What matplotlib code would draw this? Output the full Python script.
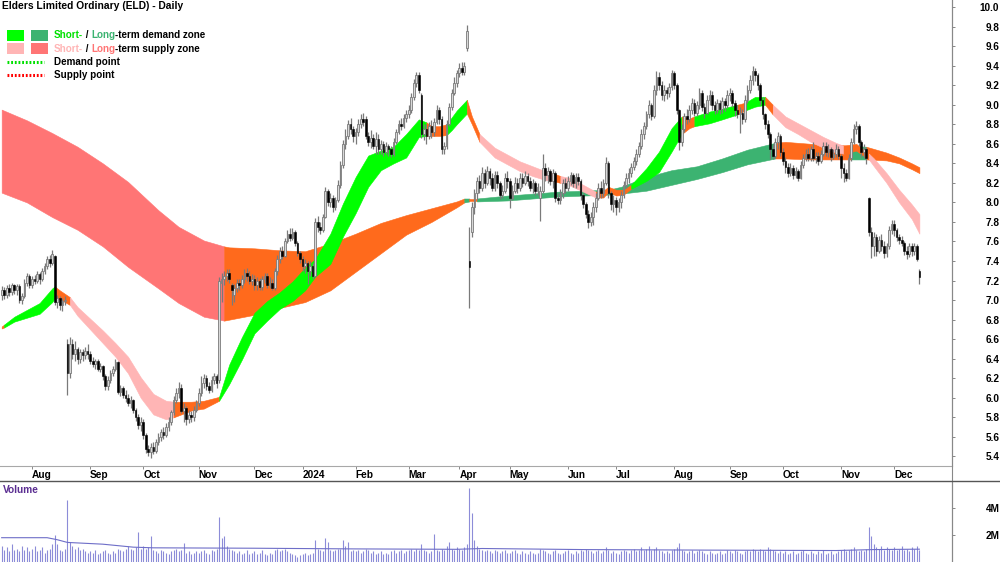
import numpy as np
import pandas as pd
import matplotlib
matplotlib.use("Agg")
import matplotlib.pyplot as plt
from matplotlib.patches import Rectangle
from matplotlib.lines import Line2D

plt.rcParams['font.family'] = ['Liberation Sans', 'DejaVu Sans']
plt.rcParams['font.weight'] = 'bold'

TITLE = "Elders Limited Ordinary (ELD) - Daily"

# ---------------- daily OHLC, 14 Jul 2023 .. 16 Dec 2024 ----------------
opens = [
    # Jul 23
    7.05,7.10,7.05,7.12,7.08,7.15,7.10,7.14,7.00,7.04,7.18,7.25,
    # Aug
    7.15,7.22,7.20,7.27,7.22,7.30,7.35,7.42,7.38,7.45,6.98,7.02,6.95,6.99,6.55,6.25,6.55,6.45,6.50,6.40,6.47,6.44,6.48,
    # Sep
    6.45,6.38,6.35,6.38,6.30,6.33,6.22,6.12,6.18,6.25,6.30,6.37,6.06,6.10,6.03,6.00,5.95,5.98,5.88,5.80,5.72,
    # Oct
    5.75,5.62,5.48,5.45,5.50,5.46,5.55,5.60,5.65,5.62,5.70,5.75,5.85,5.98,6.05,6.10,5.86,5.90,5.78,5.82,5.80,5.88,
    # Nov
    5.95,6.05,6.15,6.20,6.12,6.08,6.18,6.22,6.18,7.18,7.22,7.25,7.28,7.15,7.05,7.12,7.18,7.15,7.22,7.28,7.25,7.20,
    # Dec
    7.22,7.15,7.20,7.13,7.22,7.25,7.15,7.18,7.12,7.30,7.42,7.50,7.45,7.60,7.68,7.64,7.70,7.58,7.48,
    # Jan 24
    7.42,7.35,7.38,7.30,7.35,7.25,7.80,7.75,7.72,7.85,8.12,8.00,8.05,7.95,8.02,8.18,8.38,8.60,8.68,8.80,8.75,
    # Feb
    8.68,8.72,8.80,8.85,8.85,8.68,8.62,8.66,8.58,8.65,8.55,8.60,8.52,8.58,8.55,8.50,8.62,8.72,8.80,8.78,8.86,
    # Mar
    8.90,8.95,9.08,9.22,9.30,9.10,8.70,8.75,8.68,8.78,8.72,8.82,8.95,8.85,8.55,8.58,8.80,8.98,9.12,9.22,
    # Apr
    9.32,9.38,9.33,9.58,7.40,7.70,7.95,8.10,8.22,8.15,8.30,8.20,8.32,8.25,8.15,8.28,8.20,8.08,8.12,8.25,
    # May
    8.22,8.05,8.12,8.20,8.15,8.25,8.20,8.27,8.22,8.15,8.20,8.12,8.05,8.12,8.35,8.28,8.32,8.22,8.30,8.05,8.02,8.10,8.20,
    # Jun
    8.15,8.22,8.28,8.20,8.26,8.22,8.08,7.98,7.88,7.80,7.85,7.95,8.05,8.15,8.10,8.20,8.40,8.10,7.98,
    # Jul
    8.02,7.95,8.00,8.08,8.18,8.25,8.30,8.36,8.42,8.50,8.58,8.70,8.78,8.90,9.00,8.88,9.15,9.28,9.20,9.10,9.15,9.12,9.18,
    # Aug
    9.32,9.20,8.95,8.62,8.75,8.88,8.85,8.95,9.02,8.92,9.00,9.12,8.98,8.92,9.05,9.10,9.00,8.95,9.02,8.96,9.04,9.00,
    # Sep
    9.10,9.12,9.02,8.95,8.90,8.92,8.85,9.05,9.15,9.25,9.35,9.30,9.20,9.05,8.90,8.80,8.70,8.55,8.48,8.62,8.68,
    # Oct
    8.52,8.42,8.36,8.30,8.35,8.28,8.32,8.25,8.38,8.45,8.50,8.45,8.55,8.45,8.48,8.42,8.50,8.58,8.52,8.55,8.47,8.50,8.55,
    # Nov
    8.48,8.35,8.30,8.25,8.45,8.62,8.75,8.78,8.62,8.52,8.55,8.05,7.70,7.55,7.65,7.50,7.62,7.55,7.48,7.55,7.72,
    # Dec
    7.78,7.72,7.65,7.62,7.58,7.50,7.47,7.55,7.50,7.55,7.30,
]
highs = [
    7.14,7.13,7.15,7.16,7.18,7.17,7.16,7.16,7.07,7.22,7.28,7.27,
    7.25,7.26,7.30,7.29,7.33,7.38,7.45,7.46,7.51,7.46,7.05,7.04,7.02,7.04,6.60,6.62,6.60,6.58,6.52,6.50,6.50,6.52,6.55,
    6.48,6.42,6.40,6.40,6.36,6.34,6.24,6.22,6.28,6.33,6.40,6.38,6.13,6.12,6.08,6.04,6.02,5.99,5.90,5.83,5.80,
    5.78,5.64,5.52,5.54,5.55,5.58,5.64,5.68,5.70,5.74,5.80,5.88,6.02,6.10,6.16,6.14,5.95,5.92,5.88,5.86,5.92,5.98,
    6.10,6.22,6.24,6.23,6.16,6.22,6.25,6.24,7.24,7.28,7.30,7.32,7.32,7.18,7.16,7.22,7.22,7.26,7.32,7.33,7.30,7.27,
    7.26,7.24,7.23,7.25,7.28,7.28,7.24,7.22,7.33,7.46,7.54,7.55,7.64,7.72,7.74,7.74,7.72,7.60,7.50,
    7.45,7.42,7.40,7.40,7.38,7.84,7.86,7.80,7.88,8.16,8.14,8.10,8.08,8.06,8.23,8.42,8.64,8.75,8.84,8.86,8.78,
    8.76,8.85,8.90,8.92,8.88,8.72,8.74,8.70,8.72,8.70,8.64,8.63,8.62,8.60,8.58,8.66,8.75,8.84,8.86,8.90,8.95,
    9.00,9.12,9.26,9.34,9.33,9.12,8.80,8.80,8.82,8.84,8.86,9.00,8.98,8.88,8.62,8.84,9.02,9.16,9.28,9.36,
    9.43,9.44,9.44,9.82,7.75,8.00,8.14,8.26,8.28,8.36,8.34,8.37,8.35,8.30,8.32,8.32,8.22,8.18,8.30,8.32,
    8.25,8.18,8.26,8.25,8.30,8.30,8.32,8.30,8.26,8.24,8.22,8.20,8.17,8.50,8.40,8.36,8.34,8.34,8.32,8.10,8.14,8.24,8.25,
    8.27,8.31,8.30,8.30,8.30,8.24,8.10,8.00,7.92,7.90,8.00,8.10,8.20,8.22,8.24,8.47,8.42,8.12,8.08,
    8.06,8.05,8.12,8.22,8.30,8.35,8.40,8.47,8.55,8.62,8.75,8.82,8.94,9.05,9.02,9.20,9.35,9.34,9.24,9.20,9.18,9.22,9.36,
    9.35,9.22,8.96,8.80,8.92,8.96,9.00,9.07,9.06,9.04,9.17,9.15,9.02,9.10,9.15,9.14,9.04,9.06,9.05,9.08,9.07,9.15,
    9.17,9.15,9.05,9.00,8.98,8.96,9.10,9.20,9.30,9.40,9.38,9.32,9.22,9.08,8.92,8.84,8.72,8.60,8.66,8.72,8.70,
    8.56,8.46,8.40,8.40,8.38,8.36,8.34,8.42,8.50,8.55,8.56,8.58,8.62,8.52,8.52,8.54,8.62,8.62,8.60,8.57,8.55,8.60,8.58,
    8.50,8.40,8.34,8.50,8.66,8.80,8.83,8.80,8.64,8.60,8.57,8.06,7.75,7.70,7.68,7.66,7.68,7.60,7.58,7.76,7.82,
    7.82,7.74,7.68,7.66,7.60,7.55,7.58,7.58,7.58,7.57,7.32,
]
lows = [
    7.00,7.01,7.02,7.04,7.05,7.06,7.05,6.97,6.96,7.02,7.14,7.12,
    7.12,7.16,7.18,7.17,7.20,7.27,7.32,7.34,7.36,6.95,6.92,6.90,6.89,6.95,6.03,6.20,6.40,6.38,6.35,6.36,6.38,6.40,6.40,
    6.35,6.32,6.30,6.27,6.26,6.18,6.08,6.08,6.15,6.22,6.27,6.04,6.02,6.00,5.96,5.92,5.90,5.84,5.76,5.68,5.66,
    5.58,5.44,5.40,5.38,5.42,5.44,5.52,5.56,5.58,5.60,5.66,5.72,5.82,5.95,6.00,5.84,5.75,5.72,5.74,5.75,5.76,5.85,
    5.92,6.02,6.10,6.08,6.05,6.06,6.14,6.10,6.15,6.98,7.15,7.20,7.18,6.95,6.98,7.08,7.10,7.12,7.18,7.20,7.16,7.15,
    7.10,7.10,7.10,7.10,7.18,7.12,7.12,7.10,7.10,7.26,7.38,7.42,7.44,7.58,7.60,7.62,7.55,7.45,7.38,
    7.30,7.28,7.17,7.25,7.22,7.24,7.70,7.68,7.70,7.84,7.96,7.95,7.90,7.92,8.00,8.15,8.35,8.55,8.65,8.70,8.62,
    8.60,8.68,8.76,8.78,8.65,8.58,8.56,8.55,8.50,8.50,8.50,8.48,8.50,8.48,8.47,8.48,8.60,8.70,8.74,8.76,8.82,
    8.86,8.92,9.05,9.18,9.12,8.66,8.64,8.60,8.65,8.66,8.68,8.80,8.80,8.50,8.50,8.55,8.78,8.95,9.10,9.18,
    9.28,9.30,9.30,9.55,6.92,7.65,7.88,8.02,8.10,8.12,8.15,8.18,8.18,8.12,8.12,8.15,8.04,8.05,8.10,8.15,
    7.94,8.02,8.10,8.10,8.12,8.16,8.18,8.17,8.12,8.10,8.08,8.08,7.81,8.10,8.22,8.20,8.18,8.15,8.00,7.98,7.98,8.05,8.10,
    8.12,8.18,8.16,8.15,8.18,8.02,7.94,7.84,7.74,7.76,7.77,7.90,8.02,8.05,8.06,8.18,8.05,7.92,7.90,
    7.87,7.90,7.94,8.05,8.15,8.20,8.26,8.33,8.38,8.46,8.55,8.65,8.75,8.86,8.84,8.86,9.10,9.15,9.05,9.04,9.06,9.08,9.15,
    9.16,8.90,8.54,8.58,8.72,8.80,8.82,8.90,8.88,8.88,8.96,8.94,8.86,8.90,9.00,8.95,8.90,8.92,8.90,8.92,8.94,8.97,
    9.04,8.98,8.88,8.86,8.71,8.80,8.82,9.02,9.12,9.20,9.24,9.15,9.00,8.85,8.75,8.66,8.44,8.44,8.45,8.55,8.48,
    8.38,8.30,8.26,8.27,8.24,8.25,8.22,8.24,8.35,8.42,8.42,8.42,8.42,8.40,8.38,8.40,8.48,8.48,8.47,8.42,8.44,8.46,8.44,
    8.25,8.21,8.22,8.24,8.42,8.60,8.70,8.58,8.46,8.45,8.39,7.66,7.43,7.45,7.45,7.48,7.50,7.43,7.44,7.52,7.68,
    7.66,7.60,7.57,7.55,7.46,7.42,7.44,7.45,7.46,7.40,7.17,
]
closes = [
    7.10,7.05,7.12,7.08,7.15,7.10,7.14,7.00,7.04,7.18,7.25,7.15,
    7.22,7.20,7.27,7.22,7.30,7.35,7.42,7.38,7.47,6.98,7.02,6.95,6.99,7.00,6.25,6.55,6.45,6.50,6.40,6.47,6.44,6.48,6.45,
    6.38,6.35,6.38,6.30,6.33,6.22,6.12,6.18,6.25,6.30,6.37,6.06,6.10,6.03,6.00,5.95,5.98,5.88,5.80,5.72,5.75,
    5.62,5.48,5.45,5.50,5.46,5.55,5.60,5.65,5.62,5.70,5.75,5.85,5.98,6.05,6.10,5.86,5.90,5.78,5.82,5.80,5.88,5.95,
    6.05,6.15,6.20,6.12,6.08,6.18,6.22,6.15,7.20,7.22,7.25,7.28,7.22,7.10,7.12,7.18,7.15,7.22,7.28,7.25,7.20,7.22,
    7.15,7.20,7.13,7.22,7.25,7.15,7.18,7.12,7.30,7.42,7.50,7.45,7.60,7.68,7.64,7.70,7.58,7.48,7.42,
    7.35,7.38,7.30,7.35,7.25,7.80,7.75,7.72,7.85,8.12,8.00,8.05,7.95,8.02,8.18,8.38,8.60,8.68,8.80,8.75,8.68,
    8.72,8.80,8.85,8.82,8.68,8.62,8.66,8.58,8.65,8.55,8.60,8.52,8.58,8.55,8.50,8.62,8.72,8.80,8.78,8.86,8.90,
    8.95,9.08,9.22,9.30,9.15,8.70,8.75,8.68,8.78,8.72,8.82,8.95,8.85,8.55,8.58,8.80,8.98,9.12,9.22,9.32,
    9.38,9.33,9.40,9.75,7.34,7.95,8.10,8.22,8.15,8.30,8.20,8.32,8.25,8.15,8.28,8.20,8.08,8.12,8.25,8.22,
    8.05,8.12,8.20,8.15,8.25,8.20,8.27,8.22,8.15,8.20,8.12,8.16,8.12,8.35,8.28,8.32,8.22,8.30,8.05,8.02,8.10,8.20,8.15,
    8.22,8.28,8.20,8.26,8.22,8.08,7.98,7.88,7.80,7.85,7.95,8.05,8.15,8.10,8.20,8.40,8.10,7.98,8.02,
    7.95,8.00,8.08,8.18,8.25,8.30,8.36,8.42,8.50,8.58,8.70,8.78,8.90,9.00,8.88,9.15,9.28,9.20,9.10,9.15,9.12,9.18,9.32,
    9.20,8.95,8.62,8.75,8.88,8.85,8.95,9.02,8.92,9.00,9.12,8.98,8.92,9.05,9.10,9.00,8.95,9.02,8.96,9.04,9.00,9.10,
    9.12,9.02,8.95,8.90,8.92,8.85,9.05,9.15,9.25,9.35,9.30,9.20,9.05,8.90,8.80,8.70,8.55,8.48,8.62,8.68,8.52,
    8.42,8.36,8.30,8.35,8.28,8.32,8.25,8.38,8.45,8.50,8.45,8.55,8.45,8.48,8.42,8.50,8.58,8.52,8.55,8.47,8.50,8.55,8.48,
    8.35,8.30,8.25,8.45,8.62,8.75,8.78,8.62,8.52,8.55,8.45,7.70,7.55,7.65,7.50,7.62,7.55,7.48,7.55,7.72,7.78,
    7.72,7.65,7.62,7.58,7.50,7.47,7.55,7.50,7.55,7.42,7.24,
]
# volume, millions of shares
volume = [
    1.2,0.9,1.1,0.8,1.3,0.9,1.0,0.8,1.2,0.9,1.1,0.8,
    1.0,1.2,0.8,0.9,1.1,0.7,0.9,1.0,1.3,2.0,1.3,0.9,0.8,1.0,4.6,1.5,1.2,1.0,1.1,0.9,1.0,0.8,0.7,
    0.8,0.7,0.9,0.6,0.7,0.8,0.9,0.7,0.6,0.8,0.7,1.0,0.9,0.8,1.0,1.2,1.0,0.9,1.1,2.2,1.0,
    1.2,1.0,1.1,1.9,0.9,0.8,0.7,0.9,0.8,0.7,0.6,0.8,0.9,1.0,0.8,0.9,1.4,0.7,0.8,0.6,0.7,0.8,
    0.7,0.8,0.9,0.7,0.6,0.9,0.8,1.0,3.3,1.8,1.9,1.2,1.0,0.9,0.8,0.7,0.8,0.6,0.7,0.9,0.6,0.7,
    0.8,0.6,0.7,0.9,0.6,0.5,0.7,0.6,0.9,1.0,0.8,0.9,1.0,0.8,0.7,0.6,0.5,0.4,0.5,
    0.6,0.7,0.5,0.6,0.7,1.6,1.0,0.9,0.8,1.8,1.5,0.9,0.8,0.9,1.0,1.0,1.6,1.2,1.5,0.8,0.9,
    0.8,0.9,0.7,0.8,1.0,0.9,0.7,0.8,0.6,0.7,0.8,0.6,0.7,0.6,0.8,0.9,0.7,0.8,0.9,0.7,0.8,
    0.9,1.0,0.8,1.0,0.9,1.3,0.9,0.8,0.7,0.8,2.1,0.9,0.8,1.0,0.9,1.2,1.5,1.0,0.9,1.1,
    1.0,0.9,1.1,1.3,5.5,3.6,1.6,1.2,1.0,0.9,0.8,0.9,0.8,0.7,0.9,0.8,0.7,0.8,0.9,0.7,
    0.7,0.8,0.9,0.7,0.6,0.8,0.7,0.6,0.8,0.7,0.6,0.7,1.0,0.9,0.8,0.7,0.6,0.8,0.9,0.7,0.6,0.7,0.8,
    0.9,0.7,0.6,0.8,0.7,0.9,0.8,1.0,0.9,0.8,0.7,0.8,0.9,0.7,0.8,1.1,0.9,0.7,0.8,
    0.7,0.6,0.8,0.9,0.8,0.7,0.9,1.0,0.8,0.9,1.1,0.9,1.0,1.2,0.9,1.0,1.1,0.9,0.8,0.7,0.8,0.7,0.9,
    1.0,1.1,1.4,0.9,0.8,0.7,0.8,0.9,0.7,0.8,0.9,0.8,0.7,0.6,0.8,0.7,0.6,0.7,0.8,0.6,0.7,0.9,
    0.8,0.7,0.9,0.8,0.7,0.6,0.8,0.9,0.8,1.0,0.9,0.8,1.0,0.9,0.8,1.1,1.0,0.9,0.8,0.7,0.8,
    0.7,0.8,0.6,0.7,0.8,0.6,0.7,0.8,0.9,0.7,0.6,0.8,0.7,0.6,0.8,0.7,0.9,0.6,0.7,0.8,0.6,0.7,0.8,
    0.9,1.0,0.8,0.9,1.0,1.1,0.9,0.8,0.9,0.8,1.0,2.6,1.9,1.3,1.1,1.0,1.2,0.9,1.1,1.0,0.9,
    1.1,0.9,1.0,1.2,0.9,1.0,0.8,1.1,1.0,1.2,0.9,
]
# volume average line (bar index, millions)
vol_ma_day = [0, 18, 22, 26, 40, 52, 60, 100, 140, 180, 190, 230, 280, 330, 345, 363]
vol_ma_val = [1.8, 1.8, 1.65, 1.45, 1.32, 1.1, 1.05, 1.02, 0.97, 0.94, 1.0, 0.92, 0.88, 0.85, 0.92, 0.95]

# ---------------- demand / supply zones (bar index, upper, lower, state) ----------------
# state: d/D demand, s/S supply, m/M mixed ; lower case short-term, upper case long-term
short_day = [0, 1, 5, 10, 15, 20, 21, 23, 27, 30, 35, 40, 45, 50, 55, 60, 65, 68, 70, 75, 80,
             86, 90, 95, 100, 105, 110, 115, 120, 124, 130, 135, 140, 145, 150, 155, 160, 165,
             168, 170, 173, 176, 178, 180, 184, 186, 189, 195, 200, 205, 210, 215, 218, 221, 225,
             230, 235, 238, 240, 243, 246, 249, 255, 260, 265, 269, 272, 274, 280, 285, 291, 294,
             298, 302, 305, 310, 315, 320, 325, 330, 333, 338, 343, 345, 350, 355, 360, 363]
short_top = [6.73, 6.75, 6.83, 6.90, 6.97, 7.12, 7.14, 7.10, 7.03, 6.93, 6.81, 6.69, 6.56, 6.42, 6.21,
             6.04, 5.97, 5.96, 5.96, 5.96, 5.97, 6.01, 6.34, 6.62, 6.87, 6.99, 7.08, 7.19, 7.33, 7.42,
             7.68, 7.99, 8.26, 8.48, 8.53, 8.57, 8.70, 8.85, 8.82, 8.78, 8.78, 8.80, 8.87, 8.94, 9.05,
             8.88, 8.70, 8.56, 8.49, 8.42, 8.37, 8.32, 8.30, 8.27, 8.25, 8.18, 8.11, 8.12, 8.16, 8.13,
             8.13, 8.18, 8.35, 8.52, 8.76, 8.88, 8.86, 8.88, 8.93, 8.96, 9.00, 9.02, 9.08, 9.08, 9.00,
             8.88, 8.81, 8.74, 8.67, 8.61, 8.58, 8.60, 8.50, 8.45, 8.30, 8.13, 7.98, 7.88]
short_bot = [6.71, 6.72, 6.78, 6.82, 6.86, 6.98, 7.02, 7.01, 6.95, 6.84, 6.70, 6.56, 6.42, 6.25, 6.00,
             5.83, 5.78, 5.80, 5.82, 5.87, 5.89, 5.97, 6.14, 6.39, 6.66, 6.79, 6.91, 6.99, 7.10, 7.24,
             7.37, 7.65, 7.89, 8.16, 8.33, 8.40, 8.46, 8.67, 8.68, 8.68, 8.68, 8.69, 8.74, 8.80, 8.91,
             8.80, 8.62, 8.46, 8.39, 8.32, 8.27, 8.23, 8.22, 8.20, 8.17, 8.11, 8.05, 8.05, 8.11, 8.07,
             8.08, 8.14, 8.22, 8.31, 8.52, 8.70, 8.76, 8.78, 8.81, 8.85, 8.90, 8.94, 8.98, 9.00, 8.90,
             8.77, 8.70, 8.62, 8.56, 8.51, 8.50, 8.53, 8.44, 8.37, 8.20, 8.00, 7.83, 7.68]
short_state = "mdddddmmsssssssssmmmmdddddddddddddddddmmmdddmmssssssmsssmmmmmddddmmdddmddmssssssmmssssss"

long_day = [0, 10, 20, 30, 40, 50, 62, 70, 80, 88, 90, 100, 110, 120, 130, 140, 150, 160, 170, 180,
            183, 185, 188, 200, 210, 220, 230, 240, 245, 255, 265, 275, 285, 295, 306, 310, 320, 330,
            336, 342, 350, 355, 360, 363]
long_top = [8.95, 8.84, 8.71, 8.57, 8.40, 8.21, 7.92, 7.75, 7.61, 7.55, 7.54, 7.53, 7.51, 7.50, 7.58,
            7.68, 7.79, 7.87, 7.94, 8.01, 8.04, 8.04, 8.04, 8.07, 8.09, 8.11, 8.12, 8.13, 8.16, 8.26,
            8.33, 8.37, 8.45, 8.54, 8.61, 8.62, 8.60, 8.59, 8.58, 8.57, 8.51, 8.46, 8.40, 8.36]
long_bot = [8.10, 8.00, 7.85, 7.72, 7.55, 7.34, 7.12, 6.97, 6.83, 6.79, 6.80, 6.85, 6.92, 6.98, 7.10,
            7.29, 7.48, 7.67, 7.80, 7.95, 8.00, 8.01, 8.01, 8.02, 8.04, 8.06, 8.07, 8.08, 8.09, 8.12,
            8.18, 8.24, 8.31, 8.39, 8.45, 8.45, 8.44, 8.44, 8.44, 8.44, 8.43, 8.40, 8.34, 8.30]
long_state = "SSSSSSSSSMMMMMMMMMMMDMDDDDDDDDDDDDMMMMDMMMMM"

month_labels = ["Aug", "Sep", "Oct", "Nov", "Dec", "2024", "Feb", "Mar", "Apr", "May", "Jun",
                "Jul", "Aug", "Sep", "Oct", "Nov", "Dec"]
price_ticks = np.round(np.arange(5.4, 10.01, 0.2), 1)

ZONE_COLORS = {'d': '#00FF00', 's': '#FFB5B5', 'm': '#FF6A1C',
               'D': '#3CB371', 'S': '#FF7575', 'M': '#FF6A1C'}

N = len(closes)
for arr in (opens, highs, lows, volume):
    assert len(arr) == N, len(arr)
assert len(short_state) == len(short_day) == len(short_top) == len(short_bot)
assert len(long_state) == len(long_day) == len(long_top) == len(long_bot)

# ASX trading calendar
holidays = pd.to_datetime(["2023-12-25", "2023-12-26", "2024-01-01", "2024-01-26", "2024-03-29",
                           "2024-04-01", "2024-04-25", "2024-06-10"])
days = pd.bdate_range("2023-07-14", "2024-12-31")
days = days[~days.isin(holidays)][:N]
dates = pd.Series(days)
month_first = dates.groupby([dates.dt.year, dates.dt.month]).head(1).index[1:]

W, H = 1000, 562
fig = plt.figure(figsize=(W / 100, H / 100), dpi=100)
ax = fig.add_axes([0, (H - 466) / H, 952 / W, 466 / H])
axv = fig.add_axes([0, 0, 952 / W, 81 / H])

x = np.arange(N)


def draw_zone(a, day, top, bot, state, z):
    day = np.asarray(day, float)
    top = np.asarray(top)
    bot = np.asarray(bot)
    start = 0
    n = len(day) - 1
    for k in range(1, n + 1):
        if k == n or state[k] != state[start]:
            sl = slice(start, k + 1)
            c = ZONE_COLORS[state[start]]
            a.fill_between(day[sl], bot[sl], top[sl], color=c, lw=0.4, ec=c, zorder=z)
            start = k


draw_zone(ax, long_day, long_top, long_bot, long_state, 1)
draw_zone(ax, short_day, short_top, short_bot, short_state, 2)

o = np.array(opens)
c = np.array(closes)
hi = np.array(highs)
lo = np.array(lows)
up = c >= o
ax.vlines(x, lo, hi, color='#7a7a7a', lw=0.9, zorder=3)
body_lo = np.minimum(o, c)
body_h = np.maximum(np.abs(c - o), 0.012)
ax.bar(x[up], body_h[up], bottom=body_lo[up], width=0.66, color='#d8d8d8', edgecolor='#7a7a7a',
       lw=0.6, zorder=4)
ax.bar(x[~up], body_h[~up], bottom=body_lo[~up], width=0.66, color='black', edgecolor='black',
       lw=0.4, zorder=4)

xmin, xmax = -0.66, 375.9
ax.set_xlim(xmin, xmax)
ax.set_ylim(5.302, 10.072)
for s in ('left', 'top'):
    ax.spines[s].set_visible(False)
ax.spines['bottom'].set_color('#a8a8a8')
ax.spines['right'].set_color('#888888')
ax.yaxis.tick_right()
ax.set_yticks(price_ticks, [f"{v:.1f}" for v in price_ticks])
ax.tick_params(axis='y', direction='out', length=2.2, width=0.7, color='#888888',
               labelsize=7.2, pad=31.9)
plt.setp(ax.get_yticklabels(), ha='right')
ax.set_xticks(month_first, month_labels)
ax.tick_params(axis='x', direction='out', length=2.2, width=0.7, color='#888888',
               labelsize=7.3, pad=0.5)
plt.setp(ax.get_xticklabels(), ha='left')

# volume panel
axv.vlines(x, 0, volume, color='#8c8cd8', lw=0.8)
axv.plot(vol_ma_day, vol_ma_val, color='#6e6ec8', lw=0.8)
axv.set_xlim(xmin, xmax)
axv.set_ylim(0, 6.0)
for s in ('left', 'top', 'bottom'):
    axv.spines[s].set_visible(False)
axv.spines['right'].set_color('#888888')
axv.set_xticks([])
axv.yaxis.tick_right()
axv.set_yticks([2, 4], ["2M", "4M"])
axv.tick_params(axis='y', direction='out', length=2.2, width=0.7, color='#888888',
                labelsize=7.2, pad=31.9)
plt.setp(axv.get_yticklabels(), ha='right')
axv.text(3, 80 - 8, "Volume", transform=None, fontsize=7.3, color='#5a2d91', va='center')

# frame lines
fig.add_artist(Line2D([952 / W, 952 / W], [0, 1], color='#888888', lw=0.8))
fig.add_artist(Line2D([0, 1], [(H - 481) / H] * 2, color='#555555', lw=1.0))

# title and legend
fig.text(2 / W, 1 - 6 / H, TITLE, fontsize=7.4, va='center', ha='left')


def px(xp, yp):
    return xp / W, 1 - yp / H


def swatch(xp, yp, color):
    fig.add_artist(Rectangle(px(xp, yp + 10), 17 / W, 10 / H, transform=fig.transFigure,
                             color=color, lw=0))


def rich_line(xp, yp, pieces):
    prev = fig.text(*px(xp, yp), pieces[0][0], color=pieces[0][1], fontsize=7.1, va='center')
    for txt, col in pieces[1:]:
        prev = ax.annotate(txt, xy=(1, 0), xycoords=prev, va='bottom', ha='left',
                           color=col, fontsize=7.1, annotation_clip=False)


swatch(7, 30.5, ZONE_COLORS['d'])
swatch(31, 30.5, ZONE_COLORS['D'])
rich_line(54, 35.5, [("Short-", '#00E000'), (" / ", 'black'), ("Long", '#3CB371'),
                     ("-term demand zone", 'black')])
swatch(7, 43.5, ZONE_COLORS['s'])
swatch(31, 43.5, ZONE_COLORS['S'])
rich_line(54, 48.5, [("Short-", '#FFB5B5'), (" / ", 'black'), ("Long", '#FF7575'),
                     ("-term supply zone", 'black')])
fig.add_artist(Line2D([7 / W, 44 / W], [1 - 62 / H] * 2, color='#00E000', lw=2.2,
                      ls=(0, (0.6, 0.6))))
fig.text(*px(54, 62), "Demand point", fontsize=7.1, va='center')
fig.add_artist(Line2D([7 / W, 44 / W], [1 - 74.5 / H] * 2, color='#FF0000', lw=2.2,
                      ls=(0, (0.6, 0.6))))
fig.text(*px(54, 74.5), "Supply point", fontsize=7.1, va='center')

fig.savefig("out.png", dpi=100)
